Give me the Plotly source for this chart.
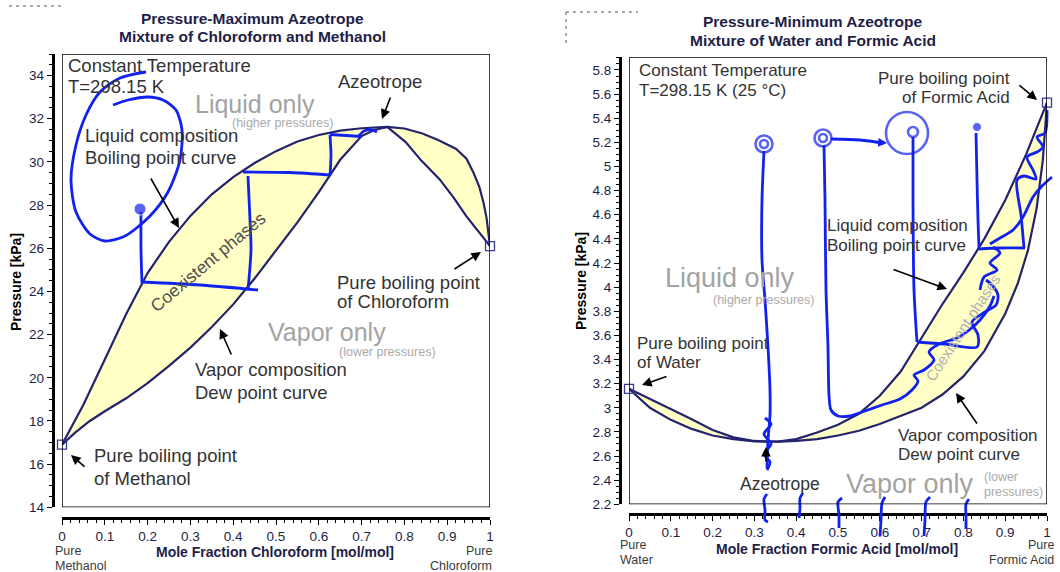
import plotly.graph_objects as go

W, H = 1060, 572
FONT = "Arial, Liberation Sans, sans-serif"
NAVY = "#23236e"
YELLOW = "#FFFFC6"
BLUE = "#1222ee"
TICKC = "#1e1e46"
TXT = "#333333"
GREY = "#a3a3a3"

# ---------------- data: chloroform / methanol (298.15 K) ----------------
cm_bubble_x = [0, 0.05, 0.1, 0.15, 0.2, 0.25, 0.3, 0.35, 0.4, 0.45, 0.5, 0.55, 0.6, 0.65,
               0.7, 0.76, 0.8, 0.842, 0.88, 0.921, 0.945, 0.961, 0.975, 0.985, 0.992, 0.996, 1.0]
cm_bubble_p = [16.9, 18.75, 20.85, 22.95, 24.85, 26.3, 27.5, 28.5, 29.3, 29.95, 30.5, 30.95, 31.25, 31.45,
               31.56, 31.62, 31.55, 31.32, 31.0, 30.6, 30.15, 29.52, 28.85, 28.1, 27.4, 26.8, 26.1]
cm_dew_x = [0, 0.03, 0.065, 0.1, 0.15, 0.2, 0.25, 0.3, 0.35, 0.4, 0.45, 0.5, 0.55, 0.6, 0.65,
            0.7, 0.73, 0.76, 0.803, 0.84, 0.882, 0.915, 0.945, 0.97, 0.992, 1.0]
cm_dew_p = [16.9, 17.45, 18.0, 18.45, 19.05, 19.75, 20.55, 21.4, 22.35, 23.4, 24.6, 25.9, 27.2, 28.6, 30.1,
            31.2, 31.48, 31.62, 30.92, 30.05, 29.2, 28.35, 27.48, 26.85, 26.3, 26.1]
cm_pure_x = [0, 1]
cm_pure_p = [16.9, 26.1]

# ---------------- data: water / formic acid (298.15 K) ----------------
fw_bubble_x = [0, 0.05, 0.1, 0.15, 0.2, 0.25, 0.3, 0.33, 0.36, 0.4, 0.45, 0.5, 0.55, 0.6, 0.65,
               0.69, 0.75, 0.8, 0.85, 0.9, 0.95, 1.0]
fw_bubble_p = [3.157, 3.075, 2.99, 2.905, 2.815, 2.755, 2.725, 2.72, 2.722, 2.74, 2.795, 2.86, 2.95, 3.1, 3.3,
               3.52, 3.86, 4.12, 4.4, 4.72, 5.1, 5.53]
fw_dew_x = [0, 0.05, 0.1, 0.15, 0.2, 0.25, 0.3, 0.33, 0.36, 0.4, 0.45, 0.5, 0.55, 0.6, 0.65, 0.7,
            0.75, 0.8, 0.85, 0.9, 0.93, 0.954, 0.975, 0.99, 1.0]
fw_dew_p = [3.157, 3.0, 2.9, 2.825, 2.77, 2.74, 2.722, 2.718, 2.72, 2.725, 2.74, 2.77, 2.81, 2.865, 2.93, 3.0,
            3.11, 3.26, 3.47, 3.78, 4.03, 4.3, 4.65, 5.05, 5.53]
fw_pure_x = [0, 1]
fw_pure_p = [3.157, 5.53]

# ---------------- tick labels ----------------
x_ticks = [0, 0.1, 0.2, 0.3, 0.4, 0.5, 0.6, 0.7, 0.8, 0.9, 1.0]
x_ticktext = ["0", "0.1", "0.2", "0.3", "0.4", "0.5", "0.6", "0.7", "0.8", "0.9", "1"]
cm_y_ticks = [14, 16, 18, 20, 22, 24, 26, 28, 30, 32, 34]
fw_y_ticks = [2.2, 2.4, 2.6, 2.8, 3.0, 3.2, 3.4, 3.6, 3.8, 4.0, 4.2, 4.4, 4.6, 4.8, 5.0, 5.2, 5.4, 5.6, 5.8]
fw_y_ticktext = ["2.2", "2.4", "2.6", "2.8", "3", "3.2", "3.4", "3.6", "3.8", "4", "4.2", "4.4",
                 "4.6", "4.8", "5", "5.2", "5.4", "5.6", "5.8"]

# ---------------- hand-drawn blue pen strokes (page pixels) ----------------
pen_strokes = [
    # left chart
    [(146, 72), (120, 78), (100, 92), (86, 115), (76, 145), (71, 180), (76, 212), (90, 234), (105, 241),
     (125, 236), (150, 216), (168, 192), (180, 160), (182, 130), (176, 110), (163, 100), (148, 97),
     (128, 100), (113, 105)],
    [(141, 212), (141, 250), (142, 283)],
    [(142, 282), (200, 285), (258, 290)],
    [(248, 290), (251, 250), (250, 220), (248, 176)],
    [(243, 172), (290, 172.5), (330, 175)],
    [(330, 175), (331, 155), (330, 135)],
    [(330, 134.5), (362, 136.5)],
    [(358, 137), (364, 131), (372, 130), (377, 132)],
    # right chart
    [(764, 151), (762, 200), (762, 260), (765, 300), (768, 347), (770, 390), (770, 415), (768, 440), (767, 468)],
    [(765, 418), (771, 424), (764, 434), (771, 444), (764, 454), (770, 462), (767, 470)],
    [(831, 139), (860, 140), (884, 143)],
    [(824, 145), (825, 200), (826, 290), (828, 347), (829, 395), (831, 410), (838, 416), (850, 416),
     (865, 411), (882, 405), (900, 399), (912, 390), (918, 381), (914, 375), (924, 370), (934, 360),
     (929, 352), (939, 344), (957, 338), (968, 331), (980, 320), (990, 306), (994, 296)],
    [(913, 137), (913, 200), (914, 290), (917, 342)],
    [(917, 342), (945, 344), (977, 347), (978, 335), (972, 322), (985, 312), (996, 305), (998, 295),
     (992, 285), (986, 280)],
    [(976, 133), (977, 180), (978, 220), (979, 249)],
    [(979, 249), (1000, 248), (1025, 248)],
    [(1024, 248), (1021, 215), (1017, 180), (1024, 176), (1036, 179), (1033, 170), (1027, 157), (1037, 152),
     (1043, 147), (1037, 137), (1045, 133), (1047, 110)],
    [(990, 244), (1000, 238), (1013, 230), (1023, 217), (1033, 197), (1042, 186), (1052, 177)],
    [(993, 247), (1000, 253), (990, 263), (997, 270), (984, 277), (980, 290)],
    # strokes under the right x axis
    [(767, 494), (764, 499), (765, 510), (765, 520), (768, 522)],
    [(803, 493), (800, 498), (800, 508), (799, 518)],
    [(842, 498), (838, 502), (839, 515), (839, 528)],
    [(885, 497), (882, 503), (881, 520), (880, 536)],
    [(930, 497), (926, 502), (925, 520), (924, 536)],
    [(969, 499), (966, 504), (966, 517), (966, 529)],
]
pen_loops_x = [764, 764, 823, 823, 907, 913]
pen_loops_y = [144, 144, 138, 138, 133, 132]
pen_loops_size = [17, 8, 17, 8, 42, 10]
pen_dots_x = [140, 977]
pen_dots_y = [209, 127]
pen_dots_size = [12, 9]

# faint dashed crop marks at the top-left of each panel (page pixels)
crop_marks = [
    [(9, 6), (62, 6)],
    [(566, 12), (638, 12)],
    [(566, 12), (566, 46)],
]


def PX(px):
    return px / W


def PY(py):
    return 1 - py / H


fig = go.Figure()

# ---------------- left chart ----------------
fig.add_trace(go.Scatter(x=cm_bubble_x + cm_dew_x[::-1], y=cm_bubble_p + cm_dew_p[::-1],
                         fill="toself", fillcolor=YELLOW, mode="lines", line=dict(width=0),
                         xaxis="x", yaxis="y", hoverinfo="skip"))
fig.add_trace(go.Scatter(x=cm_bubble_x, y=cm_bubble_p, mode="lines", name="Boiling point curve",
                         line=dict(color=NAVY, width=2.2), xaxis="x", yaxis="y"))
fig.add_trace(go.Scatter(x=cm_dew_x, y=cm_dew_p, mode="lines", name="Dew point curve",
                         line=dict(color=NAVY, width=2.2), xaxis="x", yaxis="y"))
fig.add_trace(go.Scatter(x=cm_pure_x, y=cm_pure_p, mode="markers", cliponaxis=False,
                         marker=dict(symbol="square-open", size=9, color="#3a3a96", line=dict(width=1.3)),
                         xaxis="x", yaxis="y"))

# ---------------- right chart ----------------
fig.add_trace(go.Scatter(x=fw_bubble_x + fw_dew_x[::-1], y=fw_bubble_p + fw_dew_p[::-1],
                         fill="toself", fillcolor=YELLOW, mode="lines", line=dict(width=0),
                         xaxis="x2", yaxis="y2", hoverinfo="skip"))
fig.add_trace(go.Scatter(x=fw_bubble_x, y=fw_bubble_p, mode="lines", name="Boiling point curve",
                         line=dict(color=NAVY, width=2.2), xaxis="x2", yaxis="y2"))
fig.add_trace(go.Scatter(x=fw_dew_x, y=fw_dew_p, mode="lines", name="Dew point curve",
                         line=dict(color=NAVY, width=2.2), xaxis="x2", yaxis="y2"))
fig.add_trace(go.Scatter(x=fw_pure_x, y=fw_pure_p, mode="markers", cliponaxis=False,
                         marker=dict(symbol="square-open", size=9, color="#3a3a96", line=dict(width=1.3)),
                         xaxis="x2", yaxis="y2"))

# ---------------- crop marks & pen overlay ----------------
for s in crop_marks:
    fig.add_trace(go.Scatter(x=[p[0] for p in s], y=[p[1] for p in s], mode="lines",
                             line=dict(color="#555555", width=1, dash="3px,4px"),
                             xaxis="x3", yaxis="y3", hoverinfo="skip", cliponaxis=False))
for s in pen_strokes:
    fig.add_trace(go.Scatter(x=[p[0] for p in s], y=[p[1] for p in s], mode="lines",
                             line=dict(color=BLUE, width=2.8, shape="spline", smoothing=0.8),
                             xaxis="x3", yaxis="y3", hoverinfo="skip", cliponaxis=False))
fig.add_trace(go.Scatter(x=pen_loops_x, y=pen_loops_y, mode="markers", cliponaxis=False,
                         marker=dict(symbol="circle-open", size=pen_loops_size, color=BLUE, line=dict(width=2.6)),
                         xaxis="x3", yaxis="y3", hoverinfo="skip"))
fig.add_trace(go.Scatter(x=pen_dots_x, y=pen_dots_y, mode="markers", cliponaxis=False,
                         marker=dict(symbol="circle", size=pen_dots_size, color=BLUE),
                         xaxis="x3", yaxis="y3", hoverinfo="skip"))

axis_common = dict(showgrid=False, zeroline=False, showline=True, linecolor="black", linewidth=3,
                   ticks="outside", ticklen=5, tickwidth=1, tickcolor="black", automargin=False,
                   tickfont=dict(size=13.5, color=TICKC, family=FONT), fixedrange=True)

fig.update_layout(
    template="none",
    width=W, height=H, margin=dict(l=0, r=0, t=0, b=0, pad=0, autoexpand=False),
    paper_bgcolor="white", plot_bgcolor="rgba(0,0,0,0)", showlegend=False,
    font=dict(family=FONT),
    xaxis=dict(**axis_common, domain=[PX(62), PX(490)], range=[0, 1], anchor="free", position=PY(518),
               tickvals=x_ticks, ticktext=x_ticktext,
               minor=dict(dtick=0.02, tick0=0, ticks="outside", ticklen=3, tickcolor="black")),
    yaxis=dict(**axis_common, domain=[PY(507.3), PY(54)], range=[14, 35], anchor="free",
               position=PX(52.7), tickvals=cm_y_ticks,
               minor=dict(dtick=0.5, tick0=14, ticks="outside", ticklen=3, tickcolor="black")),
    xaxis2=dict(**axis_common, domain=[PX(629), PX(1047)], range=[0, 1], anchor="free", position=PY(513.5),
                tickvals=x_ticks, ticktext=x_ticktext,
                minor=dict(dtick=0.02, tick0=0, ticks="outside", ticklen=3, tickcolor="black")),
    yaxis2=dict(**axis_common, domain=[PY(504.3), PY(57.3)], range=[2.2, 5.905], anchor="free",
                position=PX(620), tickvals=fw_y_ticks, ticktext=fw_y_ticktext,
                minor=dict(dtick=0.05, tick0=2.2, ticks="outside", ticklen=3, tickcolor="black")),
    xaxis3=dict(domain=[0, 1], range=[0, W], visible=False, fixedrange=True, anchor="y3", automargin=False),
    yaxis3=dict(domain=[0, 1], range=[H, 0], visible=False, fixedrange=True, anchor="x3", automargin=False),
)

# plot frames
fig.add_shape(type="rect", xref="x", yref="y", x0=0, x1=1, y0=14, y1=35, line=dict(color="black", width=1.5))
fig.add_shape(type="rect", xref="x2", yref="y2", x0=0, x1=1, y0=2.2, y1=5.905, line=dict(color="black", width=1.5))


def txt(text, x, y, size, color=TXT, xanchor="left", angle=0, bold=False):
    if bold:
        text = "<b>" + text + "</b>"
    return dict(text=text, x=PX(x), y=PY(y), xref="paper", yref="paper", showarrow=False,
                xanchor=xanchor, yanchor="middle", textangle=angle,
                font=dict(size=size, color=color, family=FONT))


def arrow(tx, ty, sx, sy, color="black", width=1.6, size=1.2):
    return dict(text="", x=PX(tx), y=PY(ty), xref="paper", yref="paper", showarrow=True,
                ax=sx - tx, ay=sy - ty, axref="pixel", ayref="pixel",
                arrowhead=2, arrowsize=size, arrowwidth=width, arrowcolor=color)


ann = [
    # titles
    txt("Pressure-Maximum Azeotrope", 252.6, 18.6, 15.5, TICKC, "center", bold=True),
    txt("Mixture of Chloroform and Methanol", 252.6, 36.5, 15.5, TICKC, "center", bold=True),
    txt("Pressure-Minimum Azeotrope", 812.5, 22, 15.5, TICKC, "center", bold=True),
    txt("Mixture of Water and Formic Acid", 812.5, 40.4, 15.5, TICKC, "center", bold=True),
    # axis titles
    txt("Mole Fraction Chloroform [mol/mol]", 275, 552, 14, TICKC, "center", bold=True),
    txt("Mole Fraction Formic Acid [mol/mol]", 837, 549, 14, TICKC, "center", bold=True),
    txt("Pressure [kPa]", 16, 282, 14, "black", "center", angle=-90, bold=True),
    txt("Pressure [kPa]", 581, 281, 14, "black", "center", angle=-90, bold=True),
    # end labels
    txt("Pure", 53, 551, 12.5, "#3a3a3a"), txt("Methanol", 53, 566, 12.5, "#3a3a3a"),
    txt("Pure", 494, 551, 12.5, "#3a3a3a", "right"), txt("Chloroform", 494, 566, 12.5, "#3a3a3a", "right"),
    txt("Pure", 618, 545, 12.5, "#3a3a3a"), txt("Water", 618, 560, 12.5, "#3a3a3a"),
    txt("Pure", 1056, 545, 12.5, "#3a3a3a", "right"), txt("Formic Acid", 1056, 560, 12.5, "#3a3a3a", "right"),
    # left chart labels
    txt("Constant Temperature", 66, 65, 18.5), txt("T=298.15 K", 66, 87, 18.5),
    txt("Liquid only", 255, 103.5, 25, GREY, "center"),
    txt("(higher pressures)", 282.5, 122.5, 12.5, "#aaaaaa", "center"),
    txt("Azeotrope", 336, 81, 18.5),
    txt("Liquid composition", 83, 136, 18.5), txt("Boiling point curve", 83, 157.5, 18.5),
    txt("Coexistent phases", 208, 262, 17.5, "#505050", "center", angle=-40),
    txt("Pure boiling point", 335, 282, 18.5), txt("of Chloroform", 335, 301, 18.5),
    txt("Vapor only", 327, 332, 25, GREY, "center"),
    txt("(lower pressures)", 387.5, 351.5, 12.5, "#aaaaaa", "center"),
    txt("Vapor composition", 192.7, 369.6, 18.5), txt("Dew point curve", 192.7, 392.2, 18.5),
    txt("Pure boiling point", 92, 455.8, 18.5), txt("of Methanol", 92, 478.4, 18.5),
    # right chart labels
    txt("Constant Temperature", 637, 70.7, 17), txt("T=298.15 K (25 °C)", 637, 90.2, 17),
    txt("Pure boiling point", 1012, 78, 17, TXT, "right"), txt("of Formic Acid", 1012, 97.6, 17, TXT, "right"),
    txt("Liquid composition", 825, 225, 17), txt("Boiling point curve", 825, 245, 17),
    txt("Liquid only", 730, 278, 27, GREY, "center"),
    txt("(higher pressures)", 763, 299.5, 12.5, "#aaaaaa", "center"),
    txt("Coexistent phases", 962, 328, 15, "#b0b0b0", "center", angle=-57),
    txt("Pure boiling point", 635.4, 343, 17), txt("of Water", 635.4, 362.5, 17),
    txt("Vapor composition", 896, 435, 17), txt("Dew point curve", 896, 454.4, 17),
    txt("Azeotrope", 779.5, 484.4, 17.5, TXT, "center"),
    txt("Vapor only", 910, 484.4, 27, GREY, "center"),
    txt("(lower", 982, 477, 12.5, "#aaaaaa"), txt("pressures)", 982, 492, 12.5, "#aaaaaa"),
    # arrows
    arrow(382, 119, 391, 96), arrow(179, 228, 150, 177), arrow(481, 252, 453, 270),
    arrow(220, 329, 232, 356), arrow(71, 455, 86, 468),
    arrow(1037, 100, 1018, 84), arrow(947, 289, 892, 269), arrow(642, 385, 668, 376),
    arrow(956, 393, 978, 425), arrow(766, 447, 766, 463),
    arrow(887, 143, 874, 142, BLUE, 2.2, 0.8),
]
fig.update_layout(annotations=ann)

# remove the default page margin so the 1060x572 figure fills the window exactly
fig.write_html("out.html", config={"displayModeBar": False, "staticPlot": True},
               post_script="document.body.style.margin='0';document.body.style.overflow='hidden';")
